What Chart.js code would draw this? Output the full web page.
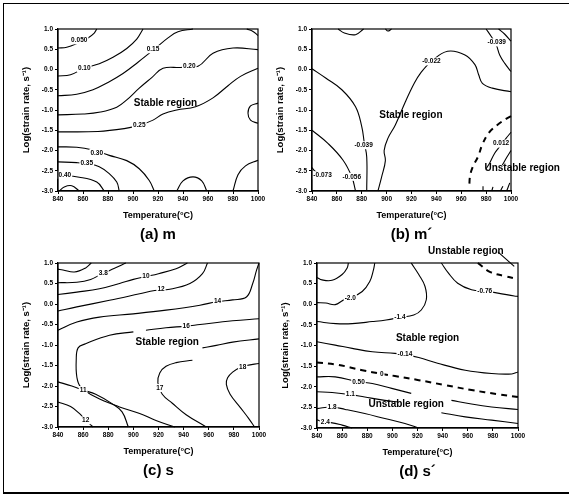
<!DOCTYPE html>
<html>
<head>
<meta charset="utf-8">
<script src="https://cdn.jsdelivr.net/npm/chart.js@4.4.0/dist/chart.umd.min.js"></script>
<style>
  html, body { margin: 0; padding: 0; background: #fff; }
  body { width: 569px; height: 497px; position: relative; overflow: hidden; }
  .frame { position: absolute; left: 3px; top: 3px; width: 600px; height: 488px;
           border-top: 1.5px solid #000; border-left: 1.5px solid #000; border-bottom: 2px solid #000; }
  canvas { position: absolute; }
</style>
</head>
<body>
<div class="frame"></div>
<canvas id="chartA" width="285" height="260" style="left:0px;top:0px"></canvas>
<canvas id="chartB" width="304" height="260" style="left:265px;top:0px"></canvas>
<canvas id="chartC" width="285" height="262" style="left:0px;top:235px"></canvas>
<canvas id="chartD" width="304" height="262" style="left:265px;top:235px"></canvas>
<script>
// axes
const tempTicks = [840, 860, 880, 900, 920, 940, 960, 980, 1000];
const rateTicks = [1.0, 0.5, 0.0, -0.5, -1.0, -1.5, -2.0, -2.5, -3.0];

// (a) m  - contour lines, [temperature, log strain rate]
const mA050 = [[840, 0.53], [847, 0.55], [855, 0.64], [864, 0.78], [869, 0.9], [871, 1.0]];
const mA010 = [[840, -0.16], [850, -0.13], [861, 0.03], [873, 0.14], [884, 0.3], [895, 0.52], [903, 0.75], [908, 1.0]];
const mA015 = [[840, -0.65], [855, -0.61], [868, -0.5], [880, -0.32], [892, -0.1], [904, 0.18], [917, 0.5], [928, 0.78], [936, 0.93], [948, 1.0]];
const mA020 = [[840, -1.12], [860, -1.1], [874, -1.05], [887, -0.93], [895, -0.75], [905, -0.46], [915, -0.2], [924, 0.03], [938, 0.05], [952, 0.08], [964, 0.4], [980, 0.53], [1000, 0.49]];
const mA025 = [[840, -1.54], [872, -1.53], [893, -1.46], [905, -1.38], [916, -1.25], [924, -1.1], [935, -1.0], [950, -0.92], [964, -0.7], [976, -0.4], [986, -0.17], [1000, 0.03]];
const mA030 = [[840, -1.91], [855, -1.92], [867, -1.98], [881, -2.12], [895, -2.25], [905, -2.45], [913, -2.74], [917, -3.0]];
const mA035 = [[840, -2.28], [855, -2.3], [864, -2.33], [873, -2.4], [881, -2.57], [887, -2.78], [889, -3.0]];
const mA040 = [[840, -2.61], [857, -2.66], [871, -2.78], [877, -3.0]];
const mAcornerBL = [[841, -3.0], [845, -2.9], [851, -2.87], [857, -3.0]];
const mAbottomMid = [[935, -3.0], [940, -2.75], [948, -2.65], [955, -2.75], [959, -3.0]];
const mAcornerBR = [[980, -3.0], [984, -2.6], [990, -2.38], [1000, -2.24]];
const mAright = [[1000, -0.83], [994, -0.9], [992, -1.08], [994, -1.25], [1000, -1.33]];
const mAcornerTR = [[991, 1.0], [996, 0.94], [1000, 0.84]];
const mALabels = [[857, 0.72, '0.050'], [861, 0.03, '0.10'], [916, 0.5, '0.15'], [945, 0.07, '0.20'],
                  [905, -1.37, '0.25'], [871, -2.06, '0.30'], [863, -2.32, '0.35'], [845.5, -2.6, '0.40']];

// (b) m'
const mBtop1 = [[861, 1.0], [866, 0.9], [875, 0.86], [881.5, 1.0]];
const mBtop2 = [[899, 1.0], [901, 0.95], [904, 1.0]];
const mBtr039 = [[980, 1.0], [984, 0.82], [988, 0.62], [991, 0.35], [995, 0.15], [1000, -0.05]];
const mBtrInner = [[990, 1.0], [995, 0.87], [1000, 0.7]];
const mB039 = [[840, 0.02], [851, -0.21], [864, -0.5], [875, -0.92], [880, -1.41], [882, -1.8], [884, -2.16], [884, -3.0]];
const mB022 = [[893, -3.0], [896, -2.65], [899, -2.25], [898, -2.0], [901, -1.7], [907, -1.37], [915, -0.8], [922, -0.35], [927, -0.1], [936, 0.2], [949, 0.45], [963, 0.36], [971, 0.12], [974, -0.13], [977, -0.34], [985, -0.46], [1000, -0.55]];
const mB056 = [[840, -1.5], [853, -1.83], [865, -2.24], [872, -2.65], [875, -3.0]];
const mB073 = [[840, -2.42], [842, -2.5], [845, -2.56]];
const mBzero = [[1000, -1.15], [996, -1.22], [989, -1.37], [982, -1.57], [977, -1.85], [973.5, -2.15], [969, -2.42], [967, -2.65], [966.5, -2.85]];
const mB012a = [[1000, -1.55], [996, -1.7], [991, -1.9], [987, -2.06], [983, -2.3], [980, -2.45]];
const mB012b = [[1000, -2.0], [997, -2.15], [993, -2.36]];
const mBfoot1 = [[977.5, -3.0], [977.5, -2.88]];
const mBfoot2 = [[984.5, -3.0], [985.5, -2.9]];
const mBfoot3 = [[991.5, -3.0], [993.5, -2.88]];
const mBfoot4 = [[996.5, -3.0], [999, -2.8]];
const mBLabels = [[988.5, 0.67, '-0.039'], [936, 0.2, '-0.022'], [881.5, -1.87, '-0.039'],
                  [872, -2.65, '-0.056'], [848.5, -2.61, '-0.073'], [992, -1.83, '0.012']];

// (c) s
const sCtl = [[840, 0.85], [844, 0.83], [853, 0.78], [862, 0.88], [866.5, 1.0]];
const sC38 = [[840, 0.52], [855, 0.53], [866, 0.6], [876, 0.75], [885, 0.87], [894, 1.0]];
const sC10 = [[840, 0.23], [855, 0.29], [873, 0.37], [889, 0.5], [900, 0.6], [910, 0.67], [920, 0.74], [934, 0.86], [943, 1.0]];
const sC12 = [[840, -0.17], [855, -0.07], [881, 0.09], [905, 0.25], [917, 0.33], [929, 0.36], [945, 0.5], [955, 0.74], [959, 1.0]];
const sC14 = [[840, -0.64], [855, -0.44], [873, -0.32], [900, -0.24], [926, -0.15], [953, -0.03], [967, 0.06], [979, 0.1], [990, 0.17], [995, 0.5], [998, 0.82], [1000, 1.0]];
const sC16a = [[910, -0.64], [926, -0.58], [942, -0.54], [953, -0.5], [979, -0.41], [1000, -0.36]];
const sC16b = [[900, -0.68], [881, -0.76], [862, -0.97], [856, -1.07], [854.5, -1.37], [855, -1.78], [858, -2.02], [870, -2.27], [889, -2.51], [905, -2.67], [918, -2.84], [933, -3.0]];
const sC165 = [[955, -1.07], [966, -1.01], [979, -0.93], [1000, -0.85]];
const sC17 = [[947, -1.37], [934, -1.43], [926, -1.52], [921, -1.68], [919.5, -1.92], [923, -2.2], [931, -2.42], [942, -2.7], [958, -3.0]];
const sC18 = [[1000, -1.45], [990, -1.5], [985, -1.55], [979, -1.66], [975, -1.8], [974, -1.96], [977, -2.2], [985, -2.52], [992, -2.8], [996.5, -3.0]];
const sC11 = [[840, -1.9], [851, -2.0], [860, -2.1], [870, -2.2], [883, -2.43], [891, -2.63], [896, -3.0]];
const sC12b = [[840, -2.39], [850, -2.5], [857, -2.67], [862, -2.84], [868, -3.0]];
const sCLabels = [[876, 0.75, '3.8'], [910, 0.67, '10'], [922, 0.35, '12'], [967, 0.07, '14'],
                  [942, -0.54, '16'], [921, -2.05, '17'], [987, -1.55, '18'], [860, -2.1, '11'], [862, -2.84, '12']];

// (d) s'
const sDtl = [[840, 0.65], [844, 0.59], [852, 0.58], [860, 0.72], [864, 0.88], [865, 1.0]];
const sD20 = [[840, 0.04], [847, 0.03], [854.5, -0.01], [861, 0.1], [866, 0.15], [876, 0.31], [882, 0.55], [885, 0.84], [886, 1.0]];
const sD14 = [[840, -0.42], [855, -0.47], [868, -0.47], [884, -0.42], [895, -0.38], [906, -0.32], [917, -0.26], [923, -0.14], [927, 0.11], [926, 0.43], [921, 0.72], [915, 1.0]];
const sD076 = [[939, 1.0], [944.5, 0.76], [952, 0.51], [963, 0.35], [974, 0.31], [984, 0.27], [997, 0.2], [1000, 0.19]];
const sDdashTop = [[968, 1.0], [978, 0.78], [990, 0.68], [1000, 0.61]];
const sDleader = [[984, 1.27], [997, 0.92]];
const sD014 = [[840, -0.91], [854.5, -0.99], [868, -1.07], [884, -1.15], [902, -1.19], [910, -1.22], [921, -1.29], [936, -1.43], [958, -1.6], [979, -1.68], [995, -1.69], [1000, -1.64]];
const sDzero = [[840, -1.41], [857, -1.47], [876, -1.6], [892, -1.69], [902, -1.74], [921, -1.84], [942, -1.96], [963, -2.08], [984, -2.18], [1000, -2.25]];
const sD050a = [[840, -1.76], [854.5, -1.76], [873, -1.88], [884, -1.92], [899.5, -2.04], [915, -2.16]];
const sD050b = [[947, -2.33], [963, -2.42], [979, -2.49], [1000, -2.55]];
const sD11a = [[840, -2.12], [852, -2.14], [866.5, -2.19], [878, -2.25], [894, -2.33], [905, -2.37]];
const sD11b = [[939, -2.63], [958, -2.73], [979, -2.81], [1000, -2.89]];
const sD18 = [[840, -2.53], [852, -2.49], [862.5, -2.55], [878, -2.65], [894, -2.77], [910, -2.89], [921, -3.0]];
const sD24 = [[840, -2.8], [846.6, -2.87], [851, -2.87], [860, -2.93], [868, -3.0]];
const sDLabels = [[866.5, 0.15, '-2.0'], [906, -0.32, '-1.4'], [973.5, 0.32, '-0.76'], [910, -1.2, '-0.14'],
                  [891.5, -1.69, '0'], [873, -1.88, '0.50'], [866.5, -2.19, '1.1'], [852, -2.49, '1.8'], [846.6, -2.87, '2.4']];

const FONT = '"Liberation Sans", Arial, sans-serif';

const line = (pts, dashed, noClip) => ({
  data: pts.map(([x, y]) => ({ x, y })),
  showLine: true,
  borderColor: '#000',
  borderWidth: dashed ? 2 : 1.1,
  borderDash: dashed ? [6, 5] : [],
  pointRadius: 0,
  tension: 0.4,
  fill: false,
  clip: noClip ? false : 2
});

// contour labels, region labels, frame and titles
const panelText = {
  id: 'panelText',
  afterDatasetsDraw(chart, args, opts) {
    const { ctx, chartArea: a } = chart;
    const sx = chart.scales.x, sy = chart.scales.y;
    ctx.save();
    ctx.textAlign = 'center';
    ctx.textBaseline = 'middle';
    ctx.font = 'bold 6.5px ' + FONT;
    (opts.levels || []).forEach(([vx, vy, t]) => {
      const px = sx.getPixelForValue(vx), py = sy.getPixelForValue(vy);
      const w = ctx.measureText(t).width + 2;
      ctx.fillStyle = '#fff';
      ctx.fillRect(px - w / 2, py - 4, w, 8);
      ctx.fillStyle = '#000';
      ctx.fillText(t, px, py);
    });
    ctx.font = 'bold 10px ' + FONT;
    (opts.regions || []).forEach(([vx, vy, t]) => {
      ctx.fillText(t, sx.getPixelForValue(vx), sy.getPixelForValue(vy));
    });
    ctx.strokeStyle = '#000';
    ctx.lineWidth = 1.2;
    ctx.strokeRect(a.left, a.top, a.right - a.left, a.bottom - a.top);
    const cx = (a.left + a.right) / 2;
    ctx.font = 'bold 9px ' + FONT;
    ctx.fillText('Temperature(°C)', cx, a.bottom + 25);
    ctx.font = 'bold 15px ' + FONT;
    ctx.fillText(opts.caption, cx, a.bottom + 44);
    ctx.translate(a.left - 32, (a.top + a.bottom) / 2);
    ctx.rotate(-Math.PI / 2);
    ctx.font = 'bold 9.5px ' + FONT;
    ctx.fillText('Log(strain rate, s⁻¹)', 0, 0);
    ctx.restore();
  }
};

function makePanel(id, lines, levels, regions, caption, pad) {
  return new Chart(document.getElementById(id), {
    type: 'scatter',
    plugins: [panelText],
    data: { datasets: lines },
    options: {
      responsive: false,
      animation: false,
      events: [],
      layout: { padding: pad },
      plugins: {
        legend: { display: false },
        tooltip: { enabled: false },
        panelText: { levels, regions, caption }
      },
      scales: {
        x: {
          type: 'linear', min: 840, max: 1000,
          afterBuildTicks: (s) => { s.ticks = tempTicks.map(v => ({ value: v })); },
          afterFit: (s) => { s.height = 14; },
          ticks: { color: '#000', padding: 1, maxRotation: 0, autoSkip: false,
                   font: { family: FONT, size: 6.5, weight: 'bold' },
                   callback: (v) => String(v) },
          grid: { drawOnChartArea: false, tickLength: 3, color: '#000' },
          border: { color: '#000', width: 1.2 }
        },
        y: {
          type: 'linear', min: -3, max: 1,
          afterBuildTicks: (s) => { s.ticks = rateTicks.map(v => ({ value: v })); },
          afterFit: (s) => { s.width = 30; },
          ticks: { color: '#000', padding: 2, autoSkip: false,
                   font: { family: FONT, size: 6.5, weight: 'bold' },
                   callback: (v) => Number(v).toFixed(1) },
          grid: { drawOnChartArea: false, tickLength: 3, color: '#000' },
          border: { color: '#000', width: 1.2 }
        }
      }
    }
  });
}

makePanel('chartA',
  [mA050, mA010, mA015, mA020, mA025, mA030, mA035, mA040, mAcornerBL, mAbottomMid, mAcornerBR, mAright, mAcornerTR].map(p => line(p)),
  mALabels, [[926, -0.83, 'Stable region']], '(a) m',
  { left: 28, top: 29, right: 27, bottom: 55 });

makePanel('chartB',
  [mBtop1, mBtop2, mBtr039, mBtrInner, mB039, mB022, mB056, mB073, mB012a, mB012b, mBfoot1, mBfoot2, mBfoot3, mBfoot4].map(p => line(p))
    .concat([line(mBzero, true)]),
  mBLabels, [[919.5, -1.12, 'Stable region'], [1009, -2.43, 'Unstable region']], '(b) m´',
  { left: 17, top: 29, right: 58, bottom: 55 });

makePanel('chartC',
  [sCtl, sC38, sC10, sC12, sC14, sC16a, sC16b, sC165, sC17, sC18, sC11, sC12b].map(p => line(p)),
  sCLabels, [[927, -0.93, 'Stable region']], '(c) s',
  { left: 28, top: 28, right: 26, bottom: 56 });

makePanel('chartD',
  [sDtl, sD20, sD14, sD076, sD014, sD050a, sD050b, sD11a, sD11b, sD18, sD24].map(p => line(p))
    .concat([line(sDdashTop, true), line(sDzero, true), line(sDleader, false, true)]),
  sDLabels, [[928, -0.82, 'Stable region'], [911, -2.42, 'Unstable region'], [958.5, 1.29, 'Unstable region']], '(d) s´',
  { left: 22, top: 28, right: 51, bottom: 55 });
</script>
</body>
</html>
